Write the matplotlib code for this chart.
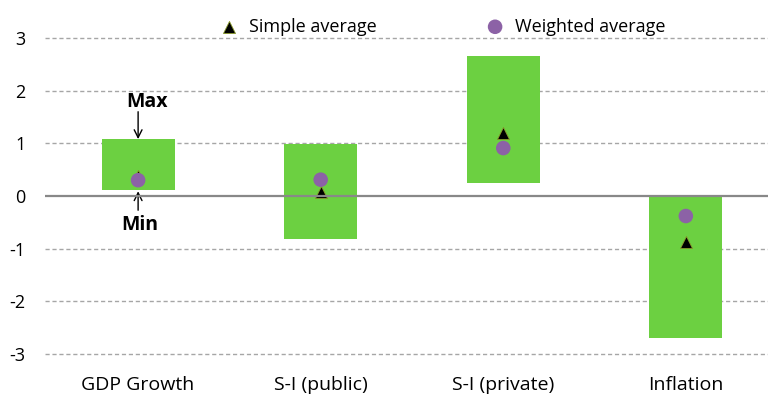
import numpy as np
import matplotlib.pyplot as plt

plt.rcParams['font.family'] = ['Open Sans', 'DejaVu Sans']
plt.rcParams['axes.unicode_minus'] = False

categories = ["GDP Growth", "S-I (public)", "S-I (private)", "Inflation"]
range_min = [0.11, -0.82, 0.25, -2.70]
range_max = [1.08, 0.99, 2.66, 0.0]
simple_avg = [0.38, 0.08, 1.20, -0.88]
weighted_avg = [0.30, 0.31, 0.91, -0.38]

green = "#6CD041"
purple = "#8C62A6"

fig = plt.figure(figsize=(7.68, 3.97), dpi=100)
ax = fig.add_axes([45 / 768, 1 - 354 / 397, 723 / 768, 316 / 397])

x = np.arange(len(categories))
lo = np.array(range_min)
hi = np.array(range_max)
ax.bar(x, hi - lo, bottom=lo, width=0.4, color=green, zorder=2)

ax.scatter(x, simple_avg, marker="^", s=75, color="black",
           edgecolors="#8a9a2a", linewidths=0.6, zorder=3, label="Simple average")
ax.scatter(x, weighted_avg, marker="o", s=110, color=purple,
           edgecolors="none", zorder=4, label="Weighted average")

ax.set_xlim(-0.51, 3.45)
ax.set_ylim(-3, 3)
ax.set_yticks(range(-3, 4))
ax.set_xticks(x)
ax.set_xticklabels(categories, fontsize=14)
ax.tick_params(axis="y", labelsize=13, length=0, pad=14)
ax.tick_params(axis="x", length=0, pad=16)

# dashed gridlines behind the bars, solid zero line on top
for v in [-3, -2, -1, 1, 2, 3]:
    ax.axhline(v, color="#a6a6a6", linestyle=(0, (3, 2)), linewidth=1,
               zorder=1, clip_on=False)
ax.axhline(0, color="#888888", linewidth=1.6, zorder=5)

for s in ax.spines.values():
    s.set_visible(False)

# Max / Min labels on the first bar
ax.text(0.05, 1.78, "Max", ha="center", va="center", fontsize=14, fontweight="bold")
ax.text(0.01, -0.55, "Min", ha="center", va="center", fontsize=14, fontweight="bold")
ax.annotate("", xy=(0, range_max[0]), xytext=(0, 1.60),
            arrowprops=dict(arrowstyle="->", color="black", lw=1,
                            shrinkA=0, shrinkB=0, mutation_scale=14))
ax.annotate("", xy=(0, range_min[0] - 0.02), xytext=(0, -0.27),
            arrowprops=dict(arrowstyle="->", color="black", lw=1,
                            shrinkA=0, shrinkB=0, mutation_scale=14))

ax.legend(loc="lower center", bbox_to_anchor=(0.544, 0.985), ncol=2,
          frameon=False, fontsize=13, columnspacing=5.55, handletextpad=0.1,
          borderaxespad=0, scatterpoints=1)

fig.savefig("out.png", dpi=100)
